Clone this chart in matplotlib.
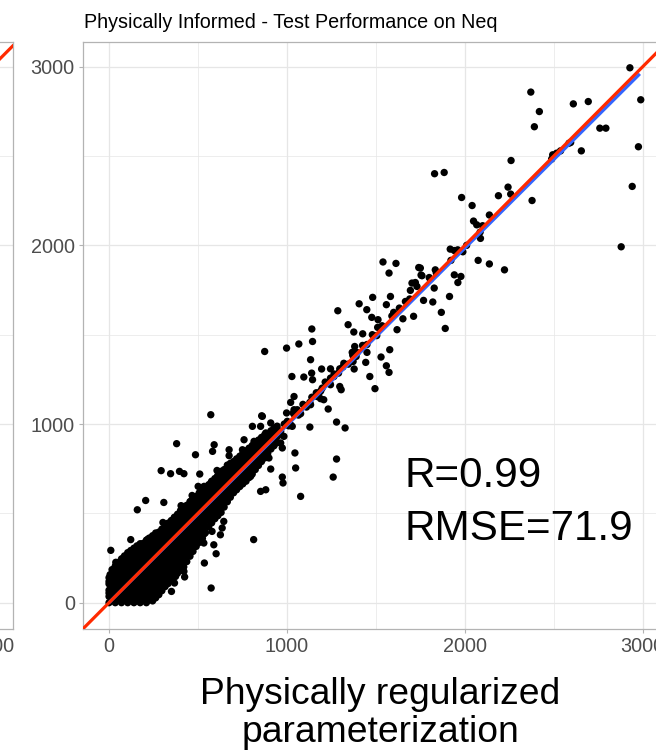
import matplotlib
matplotlib.use('Agg')
import matplotlib.pyplot as plt
import numpy as np

plt.rcParams['font.family'] = ['Liberation Sans', 'DejaVu Sans']

# ---------------- data ----------------
title = "Physically Informed - Test Performance on Neq"
x_ticks = [0, 1000, 2000, 3000]
y_ticks = [0, 1000, 2000, 3000]
minor_ticks = [500, 1500, 2500]
metric_text = ["R=0.99", "RMSE=71.9"]
xlabel_lines = ["Physically regularized", "parameterization"]

# linear-fit line (geom_smooth lm) coefficients and x range
fit_slope = 0.992
fit_intercept = 0.0
fit_x_range = [0, 2984]

# dense cluster near the diagonal, listed column by column
dense_cols_x = [0, 35, 70, 105, 140, 175, 210, 245, 280, 315, 350, 385, 420, 455,
                490, 525, 560, 595, 630, 665, 700, 735, 770, 805, 840, 875, 910, 945]
dense_cols_y = [
    [0, 35, 70, 105, 140],
    [0, 35, 70, 105, 140, 175, 205],
    [0, 35, 70, 105, 140, 175, 210, 245],
    [0, 35, 70, 105, 140, 175, 210, 245, 280],
    [0, 35, 70, 105, 140, 175, 210, 245, 280, 305],
    [0, 35, 70, 105, 140, 175, 210, 245, 280, 315, 330],
    [0, 35, 70, 105, 140, 175, 210, 245, 280, 315, 350],
    [10, 45, 80, 115, 150, 185, 220, 255, 290, 325, 360, 375],
    [45, 80, 115, 150, 185, 220, 255, 290, 325, 360, 395],
    [90, 125, 160, 195, 230, 265, 300, 335, 370, 405, 430],
    [130, 165, 200, 235, 270, 305, 340, 375, 410, 445, 460],
    [165, 200, 235, 270, 305, 340, 375, 410, 445, 480, 495],
    [200, 235, 270, 305, 340, 375, 410, 445, 480, 515, 538],
    [260, 295, 330, 365, 400, 435, 470, 505, 540, 565],
    [315, 350, 385, 420, 455, 490, 525, 560, 595],
    [360, 395, 430, 465, 500, 535, 570, 605, 635],
    [425, 460, 495, 530, 565, 600, 635, 660],
    [470, 505, 540, 575, 610, 645, 680, 695],
    [505, 540, 575, 610, 645, 680, 715, 730],
    [565, 600, 635, 670, 705, 740, 770],
    [615, 650, 685, 720, 755, 790],
    [650, 685, 720, 755, 790, 820],
    [680, 715, 750, 785, 820, 850],
    [720, 755, 790, 825, 860, 880],
    [768, 803, 838, 873, 910],
    [810, 845, 880, 915, 940],
    [860, 895, 930, 962],
    [895, 930, 970, 988],
]
# second, staggered set of columns inside the same cluster
dense2_cols_x = [17, 52, 87, 122, 157, 192, 227, 262, 297, 332, 367, 402, 437, 472,
                 507, 542, 577, 612, 647, 682, 717, 752, 787, 822, 857, 892, 927]
dense2_cols_y = [
    [17, 52, 87, 122, 157, 185],
    [17, 52, 87, 122, 157, 192, 225],
    [17, 52, 87, 122, 157, 192, 227, 262],
    [17, 52, 87, 122, 157, 192, 227, 262, 292],
    [17, 52, 87, 122, 157, 192, 227, 262, 297, 318],
    [17, 52, 87, 122, 157, 192, 227, 262, 297, 332],
    [17, 52, 87, 122, 157, 192, 227, 262, 297, 332, 362],
    [27, 62, 97, 132, 167, 202, 237, 272, 307, 342, 380],
    [67, 102, 137, 172, 207, 242, 277, 312, 347, 382, 412],
    [107, 142, 177, 212, 247, 282, 317, 352, 387, 422, 445],
    [147, 182, 217, 252, 287, 322, 357, 392, 427, 462, 478],
    [182, 217, 252, 287, 322, 357, 392, 427, 462, 497, 516],
    [230, 265, 300, 335, 370, 405, 440, 475, 510, 545],
    [287, 322, 357, 392, 427, 462, 497, 532, 567, 585],
    [337, 372, 407, 442, 477, 512, 547, 582, 615],
    [392, 427, 462, 497, 532, 567, 602, 637],
    [447, 482, 517, 552, 587, 622, 657, 680],
    [487, 522, 557, 592, 627, 662, 697, 712],
    [535, 570, 605, 640, 675, 710, 745],
    [590, 625, 660, 695, 730, 765, 780],
    [632, 667, 702, 737, 772, 805],
    [665, 700, 735, 770, 805, 835],
    [700, 735, 770, 805, 840, 865],
    [745, 780, 815, 850, 885],
    [790, 825, 860, 895, 925],
    [835, 870, 905, 940],
    [878, 913, 948, 975],
]

# points along the diagonal (chain)
chain_points = [(985, 1000), (1010, 990), (1040, 1055), (1065, 1050), (1090, 1110),
                (1110, 1095), (1140, 1150), (1165, 1175), (1190, 1185), (1215, 1235),
                (1240, 1230), (1265, 1280), (1290, 1285), (1320, 1340), (1345, 1335),
                (1370, 1385), (1395, 1400), (1425, 1440), (1450, 1445), (1480, 1500),
                (1505, 1495), (1535, 1550), (1590, 1605), (1690, 1700), (1800, 1820),
                (1960, 1975), (2010, 2000), (2100, 2110)]

# scattered points
upper_points = [(2928, 2994), (2371, 2858), (2610, 2792), (2694, 2805), (2989, 2815),
                (2419, 2749), (2391, 2664), (2759, 2656), (2793, 2656), (2586, 2572),
                (2595, 2576), (2655, 2529), (2976, 2552), (2494, 2507), (2516, 2516),
                (2538, 2529), (2488, 2483), (2260, 2475), (1830, 2401), (1884, 2408),
                (2941, 2330), (1982, 2268), (2243, 2326), (2189, 2278), (2258, 2287),
                (2378, 2251), (2041, 2223), (2138, 2170), (2049, 2136), (2067, 2115),
                (2086, 2074), (2088, 2039), (2879, 1992), (1918, 1979), (1941, 1971),
                (1989, 1964), (1922, 1916), (2075, 1916), (2138, 1896), (2223, 1863),
                (1750, 1873), (1759, 1830), (1806, 1811), (1834, 1863), (1840, 1845),
                (1941, 1835), (1978, 1826), (1961, 1792), (1828, 1761), (1914, 1714)]

mid_points = [(1540, 1907), (1613, 1899), (1574, 1845), (1741, 1876), (1754, 1834),
              (1703, 1789), (1722, 1792), (1694, 1748), (1731, 1770), (1768, 1692),
              (1820, 1683), (1868, 1625), (1890, 1535), (1482, 1709), (1582, 1714),
              (1559, 1668), (1666, 1686), (1632, 1649), (1600, 1625), (1712, 1603),
              (1652, 1589), (1406, 1673), (1449, 1640), (1286, 1634), (1477, 1597),
              (1512, 1584), (1510, 1541), (1619, 1528), (1344, 1556), (1376, 1515),
              (1426, 1505), (1140, 1532), (1144, 1462), (1067, 1448), (998, 1425),
              (875, 1406), (1381, 1434), (1367, 1401), (1389, 1378), (1450, 1401),
              (1443, 1345), (1372, 1350), (1529, 1375), (1578, 1416), (1559, 1326),
              (1574, 1289), (1466, 1266), (1495, 1198), (1133, 1360), (1195, 1308),
              (1245, 1309), (1297, 1309), (1314, 1319), (1028, 1266), (1095, 1263),
              (1139, 1285), (1144, 1248), (1378, 1308), (1245, 1257), (1264, 1266),
              (1230, 1229), (1245, 1220), (1297, 1210), (1305, 1192), (1198, 1201),
              (1180, 1173), (1170, 1154), (1207, 1136), (1189, 1142), (1040, 1154),
              (1021, 1121), (1129, 1121), (1133, 1108), (1232, 1084), (998, 1062),
              (862, 1043), (1077, 1058), (1040, 1080)]

lower_mid_points = [(1058, 1080), (1036, 1062), (1002, 1015), (1021, 996), (1030, 987),
                    (572, 1052), (858, 1046), (806, 987), (852, 987), (881, 950),
                    (909, 1006), (918, 959), (946, 931), (927, 912), (965, 959),
                    (983, 931), (965, 894), (974, 866), (759, 912), (815, 903),
                    (824, 875), (852, 856), (843, 838), (591, 884), (582, 847),
                    (675, 856), (675, 823), (750, 856), (1045, 838), (1129, 983),
                    (1279, 1011), (1327, 978), (1049, 754), (1279, 804), (1260, 703),
                    (974, 703), (978, 670), (1077, 595), (778, 791), (759, 754),
                    (722, 800), (796, 707), (899, 810), (909, 748), (881, 632),
                    (852, 623), (703, 763), (684, 726), (628, 735), (610, 707),
                    (572, 670), (534, 651), (591, 632), (647, 670), (703, 679)]

low_points = [(380, 890), (486, 828), (293, 739), (346, 722), (396, 735), (421, 722),
              (510, 720), (607, 740), (501, 651), (467, 600), (458, 567), (206, 572),
              (159, 520), (308, 561), (405, 543), (421, 530), (303, 449), (262, 390),
              (219, 356), (122, 353), (10, 293), (38, 226), (80, 250), (94, 241),
              (536, 386), (533, 334), (589, 324), (602, 274), (536, 222), (574, 82),
              (813, 353), (514, 427), (523, 380), (579, 399), (626, 380), (645, 455),
              (636, 418), (318, 179), (365, 181), (374, 147), (368, 110), (421, 175),
              (425, 144), (351, 63), (215, 166), (243, 35), (215, 26), (196, 45),
              (224, 17), (6, 157), (0, 119), (0, 54)]

# ---------------- assemble ----------------
pts = []
for cols_x, cols_y in ((dense_cols_x, dense_cols_y), (dense2_cols_x, dense2_cols_y)):
    for cx, ys in zip(cols_x, cols_y):
        for cy in ys:
            pts.append((cx, cy))
pts += chain_points + upper_points + mid_points + lower_mid_points + low_points
px = np.array([p[0] for p in pts], dtype=float)
py = np.array([p[1] for p in pts], dtype=float)

W, H = 656, 750
fig = plt.figure(figsize=(W / 100, H / 100), dpi=100)


def pos(l, t, r, b):
    return [l / W, 1 - b / H, (r - l) / W, (b - t) / H]


XLIM = (-148, 3145)
YLIM = (-149, 3140)
BORDER = '#B3B3B3'
GRID = '#E6E6E6'
TICKLAB = '#4D4D4D'
RED = '#FF2A00'
BLUE = '#3366FF'


def style_axes(a, xlim):
    a.set_xlim(*xlim)
    a.set_ylim(*YLIM)
    a.set_xticks(x_ticks)
    a.set_yticks(y_ticks)
    a.set_xticks(minor_ticks, minor=True)
    a.set_yticks(minor_ticks, minor=True)
    a.set_xticklabels([str(v) for v in x_ticks])
    a.set_yticklabels([str(v) for v in y_ticks])
    a.grid(True, which='major', color=GRID, linewidth=0.9, zorder=0)
    a.grid(True, which='minor', color=GRID, linewidth=0.5, zorder=0)
    a.set_axisbelow(True)
    for s in a.spines.values():
        s.set_color(BORDER)
        s.set_linewidth(0.9)
    a.tick_params(which='major', length=3.2, width=0.8, color=BORDER,
                  labelsize=14.3, labelcolor=TICKLAB, pad=2.5)
    a.tick_params(which='minor', length=0)


# partial left panel (previous facet, mostly outside the crop)
axl = fig.add_axes(pos(12.7 - 585.8, 41.7, 12.7, 629.3))
style_axes(axl, (-177, 3116))
axl.axline((0, 0), slope=1, color=RED, linewidth=2.3, zorder=4)

# main panel
ax = fig.add_axes(pos(82.7, 41.7, 668.5, 629.3))
style_axes(ax, XLIM)
ax.scatter(px, py, s=28, color='black', edgecolors='none', zorder=2)
fx = np.array(fit_x_range, dtype=float)
ax.plot(fx, fit_intercept + fit_slope * fx, color=BLUE, linewidth=2.3,
        solid_capstyle='butt', zorder=3)
ax.axline((0, 0), slope=1, color=RED, linewidth=2.3, zorder=4)

fig.text(84 / W, 1 - 28 / H, title, fontsize=14.2, color='black',
         ha='left', va='baseline')

fig.text(404 / W, 1 - 487 / H, metric_text[0], fontsize=30.3, ha='left', va='baseline')
fig.text(404 / W, 1 - 540 / H, metric_text[1], fontsize=30.3, ha='left', va='baseline')

fig.text(380 / W, 1 - 704 / H, xlabel_lines[0], fontsize=26.8, ha='center', va='baseline')
fig.text(380 / W, 1 - 742 / H, xlabel_lines[1], fontsize=26.8, ha='center', va='baseline')

fig.savefig('out.png', dpi=100)
